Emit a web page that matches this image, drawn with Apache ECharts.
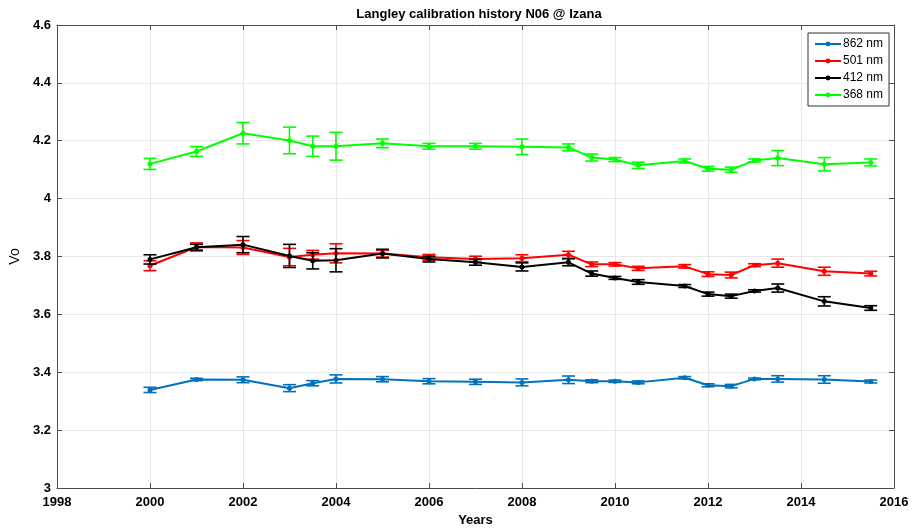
<!DOCTYPE html>
<html>
<head>
<meta charset="utf-8">
<script src="https://cdn.jsdelivr.net/npm/echarts@6/dist/echarts.min.js"></script>
<style>
  html, body { margin: 0; padding: 0; background: #fff; }
  #chart { width: 912px; height: 532px; }
</style>
</head>
<body>
<div id="chart"></div>
<script>
// Measurement dates (decimal years)
var years = [2000, 2001, 2002, 2003, 2003.5, 2004, 2005, 2006, 2007, 2008, 2009,
             2009.5, 2010, 2010.5, 2011.5, 2012, 2012.5, 2013, 2013.5, 2014.5, 2015.5];

// Langley Vo and its uncertainty per channel
var v862 = [3.339, 3.375, 3.374, 3.345, 3.362, 3.377, 3.376, 3.369, 3.367, 3.365, 3.374,
            3.369, 3.369, 3.365, 3.381, 3.355, 3.352, 3.377, 3.377, 3.375, 3.368];
var e862 = [0.009, 0.004, 0.010, 0.012, 0.009, 0.014, 0.009, 0.009, 0.009, 0.012, 0.013,
            0.005, 0.004, 0.005, 0.004, 0.005, 0.006, 0.003, 0.011, 0.013, 0.005];

var v501 = [3.768, 3.833, 3.831, 3.798, 3.806, 3.811, 3.810, 3.797, 3.791, 3.794, 3.806,
            3.773, 3.773, 3.759, 3.766, 3.739, 3.736, 3.770, 3.777, 3.749, 3.741];
var e501 = [0.017, 0.014, 0.024, 0.030, 0.015, 0.033, 0.012, 0.010, 0.010, 0.012, 0.012,
            0.008, 0.006, 0.007, 0.006, 0.008, 0.010, 0.005, 0.014, 0.014, 0.008];

var v412 = [3.790, 3.832, 3.841, 3.802, 3.785, 3.787, 3.810, 3.791, 3.780, 3.764, 3.780,
            3.741, 3.726, 3.712, 3.698, 3.670, 3.663, 3.681, 3.691, 3.645, 3.622];
var e412 = [0.016, 0.010, 0.028, 0.040, 0.028, 0.040, 0.015, 0.010, 0.010, 0.014, 0.012,
            0.009, 0.005, 0.008, 0.005, 0.007, 0.007, 0.004, 0.014, 0.016, 0.008];

var v368 = [4.120, 4.163, 4.226, 4.201, 4.181, 4.181, 4.191, 4.181, 4.181, 4.179, 4.177,
            4.142, 4.135, 4.115, 4.130, 4.103, 4.100, 4.132, 4.140, 4.119, 4.125];
var e368 = [0.019, 0.017, 0.037, 0.046, 0.035, 0.048, 0.015, 0.010, 0.010, 0.027, 0.012,
            0.012, 0.007, 0.011, 0.007, 0.008, 0.009, 0.005, 0.026, 0.023, 0.012];

var channels = [
  { name: '862 nm', vals: v862, errs: e862, color: '#0072BD' },
  { name: '501 nm', vals: v501, errs: e501, color: '#FF0000' },
  { name: '412 nm', vals: v412, errs: e412, color: '#000000' },
  { name: '368 nm', vals: v368, errs: e368, color: '#00FF00' }
];

var FONT = '"Liberation Sans", Arial, Helvetica, sans-serif';
var AXIS_COLOR = '#4d4d4d';

function errorBars(ch, z) {
  return {
    type: 'custom',
    name: ch.name + ' error',
    z: z,
    silent: true,
    data: years.map(function (x, i) {
      return [x, ch.vals[i] - ch.errs[i], ch.vals[i] + ch.errs[i]];
    }),
    encode: { x: 0, y: [1, 2] },
    renderItem: function (params, api) {
      var x = api.value(0);
      var lo = api.coord([x, api.value(1)]);
      var hi = api.coord([x, api.value(2)]);
      var hw = 6.5;
      var style = { stroke: ch.color, lineWidth: 1.6, fill: null };
      return {
        type: 'group',
        children: [
          { type: 'line', shape: { x1: lo[0], y1: lo[1], x2: hi[0], y2: hi[1] }, style: style },
          { type: 'line', shape: { x1: lo[0] - hw, y1: lo[1], x2: lo[0] + hw, y2: lo[1] }, style: style },
          { type: 'line', shape: { x1: hi[0] - hw, y1: hi[1], x2: hi[0] + hw, y2: hi[1] }, style: style }
        ]
      };
    }
  };
}

function lineSeries(ch, z) {
  return {
    type: 'line',
    name: ch.name,
    z: z,
    data: years.map(function (x, i) { return [x, ch.vals[i]]; }),
    symbol: 'circle',
    symbolSize: 5,
    showSymbol: true,
    lineStyle: { color: ch.color, width: 2 },
    itemStyle: { color: ch.color },
    emphasis: { disabled: true }
  };
}

var series = [];
channels.forEach(function (ch, k) {
  series.push(lineSeries(ch, 2 + k * 2));
  series.push(errorBars(ch, 3 + k * 2));
});

var tickCommon = { show: true, inside: true, length: 5, lineStyle: { color: AXIS_COLOR } };
var lineCommon = { show: true, lineStyle: { color: AXIS_COLOR, width: 1 } };

var chart = echarts.init(document.getElementById('chart'), null, { renderer: 'canvas' });
chart.setOption({
  animation: false,
  backgroundColor: '#ffffff',
  title: {
    text: 'Langley calibration history N06 @ Izana',
    left: 474,
    top: 3,
    textAlign: 'center',
    textStyle: { fontFamily: FONT, fontSize: 13, fontWeight: 'bold', color: '#000' }
  },
  legend: {
    data: channels.map(function (c) { return c.name; }),
    orient: 'vertical',
    left: 808,
    top: 33,
    padding: [5, 6, 5, 6],
    itemGap: 5,
    itemWidth: 26,
    itemHeight: 6,
    backgroundColor: '#fff',
    borderColor: '#333',
    borderWidth: 1,
    textStyle: { fontFamily: FONT, fontSize: 12, color: '#000', padding: [0, 0, 0, -3] }
  },
  grid: { left: 54, right: 18, top: 25, bottom: 40, containLabel: false },
  xAxis: [
    {
      type: 'value', min: 1998, max: 2016, interval: 2, position: 'bottom',
      name: 'Years', nameLocation: 'middle', nameGap: 26,
      nameTextStyle: { fontFamily: FONT, fontSize: 13, fontWeight: 'bold', color: '#000' },
      axisLine: lineCommon, axisTick: tickCommon,
      axisLabel: {
        fontFamily: FONT, fontSize: 13, fontWeight: 'bold', color: '#000', margin: 8,
        formatter: function (v) { return String(v); }
      },
      splitLine: { show: true, lineStyle: { color: '#e8e8e8', width: 1 } }
    },
    {
      type: 'value', min: 1998, max: 2016, interval: 2, position: 'top',
      axisLine: lineCommon, axisTick: tickCommon,
      axisLabel: { show: false }, splitLine: { show: false }
    }
  ],
  yAxis: [
    {
      type: 'value', min: 3, max: 4.6, interval: 0.2, position: 'left',
      name: 'Vo', nameLocation: 'middle', nameGap: 24, nameRotate: 90,
      nameTextStyle: { fontFamily: FONT, fontSize: 14, color: '#000' },
      axisLine: lineCommon, axisTick: tickCommon,
      axisLabel: {
        fontFamily: FONT, fontSize: 13, fontWeight: 'bold', color: '#000', margin: 6,
        formatter: function (v) { return String(Math.round(v * 10) / 10); }
      },
      splitLine: { show: true, lineStyle: { color: '#e8e8e8', width: 1 } }
    },
    {
      type: 'value', min: 3, max: 4.6, interval: 0.2, position: 'right',
      axisLine: lineCommon, axisTick: tickCommon,
      axisLabel: { show: false }, splitLine: { show: false }
    }
  ],
  series: series
});
</script>
</body>
</html>
